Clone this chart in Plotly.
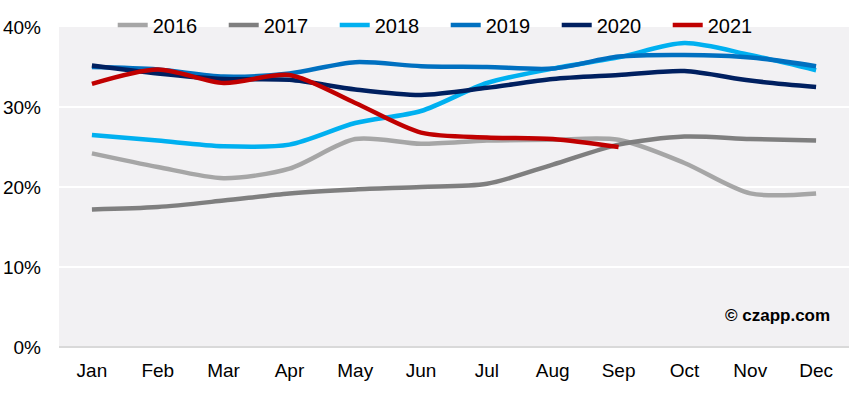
import plotly.graph_objects as go

months = ["Jan", "Feb", "Mar", "Apr", "May", "Jun", "Jul", "Aug", "Sep", "Oct", "Nov", "Dec"]

y2016 = [24.2, 22.5, 21.1, 22.3, 26.0, 25.4, 25.8, 25.9, 25.9, 23.0, 19.2, 19.2]
y2017 = [17.2, 17.5, 18.3, 19.2, 19.7, 20.0, 20.4, 22.8, 25.3, 26.3, 26.0, 25.8]
y2018 = [26.5, 25.8, 25.1, 25.3, 28.0, 29.5, 33.0, 34.8, 36.2, 38.0, 36.5, 34.6]
y2019 = [35.0, 34.7, 33.8, 34.2, 35.6, 35.1, 35.0, 34.8, 36.3, 36.5, 36.2, 35.1]
y2020 = [35.2, 34.2, 33.5, 33.4, 32.2, 31.5, 32.4, 33.5, 34.0, 34.5, 33.3, 32.5]
y2021 = [32.9, 34.7, 33.0, 34.0, 30.5, 26.8, 26.2, 26.0, 25.0]

series = [
    ("2016", y2016, "#a6a6a6"),
    ("2017", y2017, "#7f7f7f"),
    ("2018", y2018, "#00b0f0"),
    ("2019", y2019, "#0070c0"),
    ("2020", y2020, "#002060"),
    ("2021", y2021, "#c00000"),
]

fig = go.Figure()
for name, vals, color in series:
    fig.add_trace(go.Scatter(
        x=months[:len(vals)], y=[v / 100 for v in vals], name=name, mode="lines",
        line=dict(color=color, width=4.5, shape="spline", smoothing=0.8),
    ))

fig.update_layout(
    width=855, height=396,
    margin=dict(l=59, r=6, t=27, b=49, autoexpand=False),
    paper_bgcolor="white",
    plot_bgcolor="#f2f1f3",
    font=dict(family="Liberation Sans, Arial, sans-serif", size=19, color="#000000"),
    showlegend=True,
    legend=dict(orientation="h", x=0.068, xanchor="left", yref="container",
                y=1 - 25 / 396, yanchor="middle",
                bgcolor="rgba(0,0,0,0)", font=dict(size=20),
                entrywidth=66, entrywidthmode="pixels", tracegroupgap=0),
    xaxis=dict(type="category", range=[-0.5, 11.5], showgrid=False, zeroline=False,
               showline=False, ticks="", tickfont=dict(size=19), automargin=False,
               ticklabelstandoff=10),
    yaxis=dict(range=[0, 0.4], dtick=0.1, tickformat=".0%", showgrid=True,
               gridcolor="#ffffff", gridwidth=2, zeroline=True, zerolinecolor="#d9d9d9",
               zerolinewidth=2, showline=False, ticks="", tickfont=dict(size=19),
               automargin=False, ticklabelstandoff=17),
    annotations=[dict(text="<b>© czapp.com</b>", x=0.91, y=0.1, xref="paper", yref="paper",
                      xanchor="center", yanchor="middle", showarrow=False,
                      font=dict(size=17, color="#000000"))],
)

fig.write_html("out.html", config={"displayModeBar": False},
               post_script="document.body.style.margin='0px';")
